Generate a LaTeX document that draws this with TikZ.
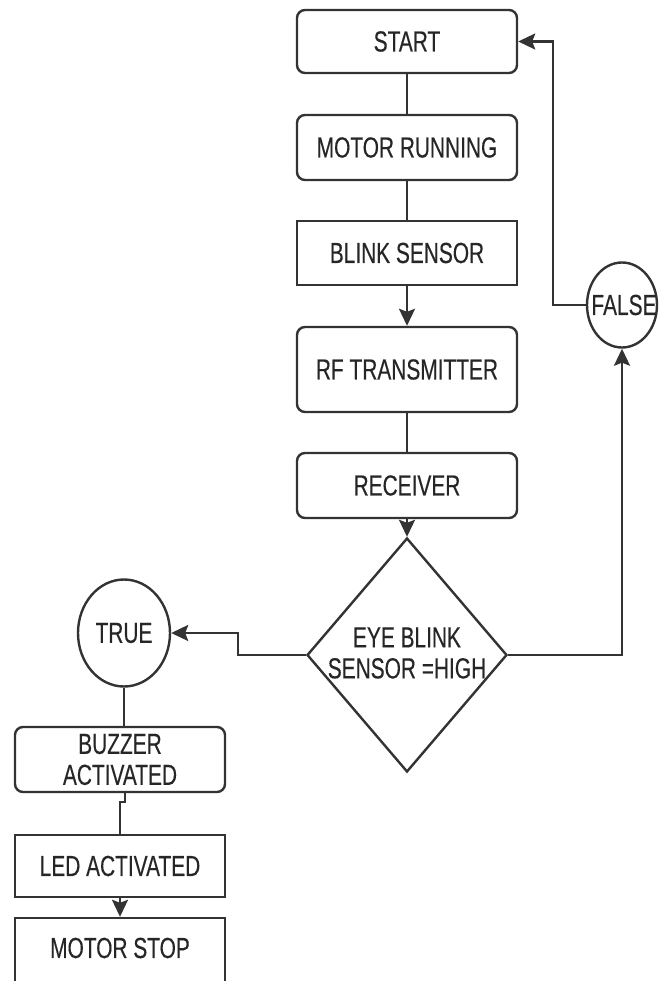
\documentclass[tikz,border=0pt]{standalone}
\usepackage{fontspec}
\setmainfont{Liberation Sans}[FakeStretch=0.72,FakeBold=0.3]
\usetikzlibrary{shapes.geometric,arrows.meta}
\definecolor{ln}{HTML}{333333}
\definecolor{tx}{HTML}{262626}
\begin{document}
\begin{tikzpicture}[x=1pt,y=-1pt,
  every node/.style={text=tx,font=\fontsize{29}{31}\selectfont},
  rbox/.style={draw=ln,line width=2.4pt,rounded corners=8pt,minimum width=220pt,inner sep=0pt},
  sbox/.style={draw=ln,line width=2.4pt,minimum width=220pt,inner sep=0pt},
  lbox/.style={draw=ln,line width=2.4pt,minimum width=210pt,inner sep=0pt},
  ell/.style={draw=ln,line width=2.4pt,ellipse,inner sep=0pt},
  conn/.style={draw=ln,line width=2.4pt},
  arr/.style={conn,-{Stealth[length=17pt,width=16pt,inset=3pt]}}]
\useasboundingbox (0,0) rectangle (659,981);
\node[rbox,minimum height=63pt] (start) at (407,41.5) {START};
\node[rbox,minimum height=65pt] (motor) at (407,147.5) {MOTOR RUNNING};
\node[sbox,minimum height=64pt] (blink) at (407,253) {BLINK SENSOR};
\node[rbox,minimum height=85pt] (rf) at (407,369.5) {RF TRANSMITTER};
\node[rbox,minimum height=65pt] (recv) at (407,485.5) {RECEIVER};
\node[diamond,draw=ln,line width=2.4pt,minimum width=200pt,minimum height=234pt,inner sep=0pt] (dec) at (407,655) {};
\node[align=center,inner sep=0pt] (dectext) at (407,653) {EYE BLINK\\SENSOR =HIGH};
\node[ell,minimum width=70pt,minimum height=85pt] (false) at (622,305) {};
\node[inner sep=0pt] (falsetext) at (624,305) {FALSE};
\node[ell,minimum width=92pt,minimum height=107pt] (true) at (124,633) {TRUE};
\node[lbox,rounded corners=8pt,minimum height=65pt,align=center] (buzzer) at (120,759.5) {BUZZER\\ACTIVATED};
\node[lbox,minimum height=62pt] (led) at (120,866) {LED ACTIVATED};
\node[lbox,minimum height=66pt] (stop) at (120,951) {};
\node[inner sep=0pt] (stoptext) at (120,948) {MOTOR STOP};
\coordinate (fj) at (553,305);
\coordinate (tj) at (238,655);
\coordinate (bj) at (125,802);
\draw[conn] (start) -- (motor);
\draw[conn] (motor) -- (blink);
\draw[arr] (blink) -- (rf);
\draw[conn] (rf) -- (recv);
\draw[arr] (recv) -- (dec);
\draw[arr] (dec.east) -| (false.south);
\draw[arr] (false.west) -- (fj) |- (start.east);
\draw[arr] (dec.west) -- (tj) |- (true.east);
\draw[conn] (true.south) -- (true.south |- buzzer.north);
\draw[conn] (bj |- buzzer.south) -- (bj) -- ++(-5,0) -- (led.north);
\draw[arr] (led) -- (stop);
\end{tikzpicture}
\end{document}
